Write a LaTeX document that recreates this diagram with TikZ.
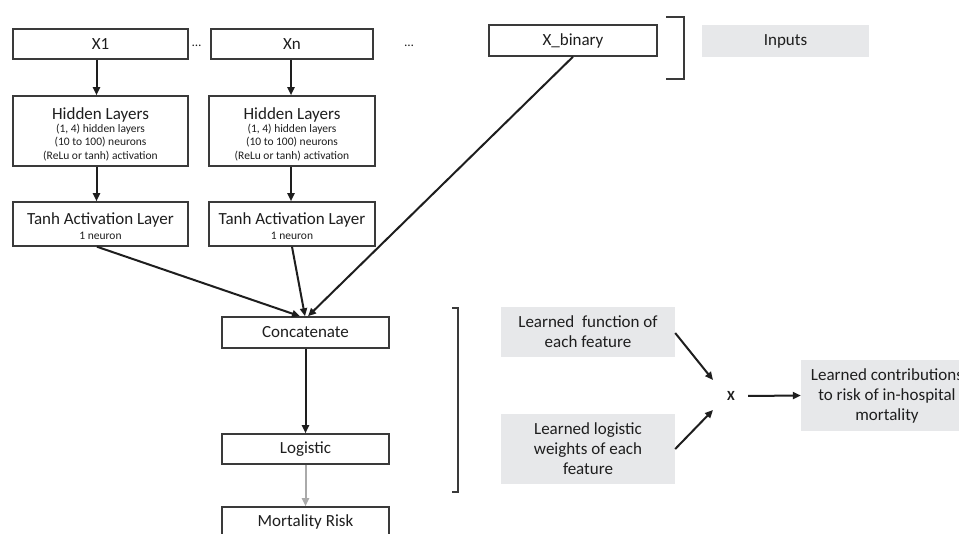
\documentclass[tikz,border=0pt]{standalone}
\usepackage{fontspec}
\setmainfont{Carlito}
\usetikzlibrary{arrows.meta}
\definecolor{boxline}{HTML}{3A3A3A}
\definecolor{graybox}{HTML}{E7E8EA}
\definecolor{ink}{HTML}{1E1E1E}
\definecolor{lightarrow}{HTML}{AAAAAA}
\tikzset{
  box/.style={draw=boxline, line width=1.5pt, fill=white, inner sep=0pt, align=center, text=ink, font=\fontsize{17}{20}\selectfont},
  grey/.style={fill=graybox, inner sep=0pt, align=center, text=ink, font=\fontsize{17}{20}\selectfont},
  conn/.style={draw=ink, line width=2pt, -{Triangle[length=8pt,width=7pt]}},
  brk/.style={draw=boxline, line width=1.3pt},
  dots/.style={text=ink, anchor=base, inner sep=0pt, font=\fontsize{13}{14}\selectfont}
}
\newcommand{\smalltxt}[1]{{\fontsize{11.5}{13.5}\selectfont #1}}
\begin{document}
\begin{tikzpicture}[x=1pt,y=-1pt]
\useasboundingbox (0,0) rectangle (959,534);
\clip (0,0) rectangle (959,534);
\fill[white] (0,0) rectangle (959,534);

% inputs row
\node[box, minimum width=175pt, minimum height=30pt] (x1) at (100.5,44) {X1};
\node[box, minimum width=162pt, minimum height=30pt] (xn) at (292,44) {Xn};
\node[box, minimum width=168pt, minimum height=31pt] (xb) at (573,40.5) {X\_binary};
\node[dots] (d1) at (196.5,46.5) {\dots};
\node[dots] (d2) at (409,46.5) {\dots};
\node[grey, minimum width=167pt, minimum height=32pt] (inp) at (785.5,41) {Inputs};

% hidden layers
\node[box, minimum width=175pt, minimum height=70pt] (h1) at (100.5,131)
  {\rule{0pt}{18pt}Hidden Layers\\[-7pt]\smalltxt{(1, 4) hidden layers}\\[-6.5pt]\smalltxt{(10 to 100) neurons}\\[-6.5pt]\smalltxt{(ReLu or tanh) activation}};
\node[box, minimum width=166pt, minimum height=70pt] (h2) at (292,131)
  {\rule{0pt}{18pt}Hidden Layers\\[-7pt]\smalltxt{(1, 4) hidden layers}\\[-6.5pt]\smalltxt{(10 to 100) neurons}\\[-6.5pt]\smalltxt{(ReLu or tanh) activation}};

% tanh layers
\node[box, minimum width=175pt, minimum height=44pt] (t1) at (100.5,224)
  {\rule{0pt}{17pt}Tanh Activation Layer\\[-5pt]\smalltxt{1 neuron}};
\node[box, minimum width=166pt, minimum height=44pt] (t2) at (292,224)
  {\rule{0pt}{17pt}Tanh Activation Layer\\[-5pt]\smalltxt{1 neuron}};

% output column
\node[box, minimum width=167pt, minimum height=31pt] (cat) at (305.5,332.5) {Concatenate};
\node[box, minimum width=167pt, minimum height=30pt] (logi) at (305.5,449) {Logistic};
\node[box, minimum width=167pt, minimum height=30pt] (mort) at (305.5,522) {Mortality Risk};

% right side labels
\node[grey, minimum width=174pt, minimum height=50pt] (fn) at (588,332) {Learned\ \ function of\\each feature};
\node[grey, minimum width=174pt, minimum height=70pt] (wt) at (588,449) {Learned logistic\\weights of each\\feature};
\node[text=ink, font=\bfseries\fontsize{14}{16}\selectfont, minimum width=36pt, inner sep=0pt] (mx) at (731,396) {X};
\node[grey, minimum width=172pt, minimum height=71pt] (con) at (887,395.5) {Learned contributions\\to risk of in-hospital\\mortality};

% connectors
\draw[conn] ([xshift=-4pt]x1.south) -- ([xshift=-4pt]h1.north);
\draw[conn] ([xshift=-4pt]h1.south) -- ([xshift=-4pt]t1.north);
\draw[conn] ([xshift=-1pt]xn.south) -- ([xshift=-1pt]h2.north);
\draw[conn] ([xshift=-1pt]h2.south) -- ([xshift=-1pt]t2.north);
\draw[conn] ([xshift=-3.5pt]t1.south) -- ([xshift=-5.5pt]cat.north);
\draw[conn] (t2.south) -- ([xshift=-0.5pt]cat.north);
\draw[conn] (xb.south) -- ([xshift=2.5pt]cat.north);
\draw[conn] (cat.south) -- (logi.north);
\draw[conn, draw=lightarrow] (logi.south) -- (mort.north);
\draw[conn] ([yshift=-1pt]fn.east) -- ([shift={(-18,-16)}]mx.center);
\draw[conn] (wt.east) -- ([shift={(-18,14)}]mx.center);
\draw[conn] ([xshift=-1pt]mx.east) -- (con.west);

% brackets
\coordinate (b1a) at (666,17);
\coordinate (b1b) at (684,79);
\draw[brk] (b1a) -- (b1a -| b1b) -- (b1b) -- (b1b -| b1a);
\coordinate (b2a) at (452,308);
\coordinate (b2b) at (458,492);
\draw[brk] (b2a) -- (b2a -| b2b) -- (b2b) -- (b2b -| b2a);
\end{tikzpicture}
\end{document}
